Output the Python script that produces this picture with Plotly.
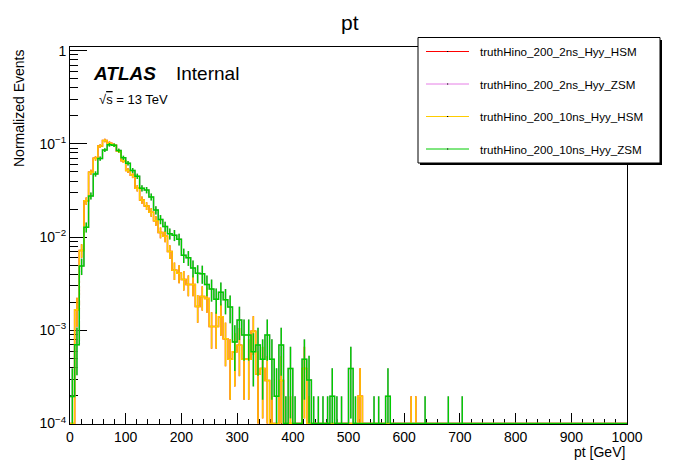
import numpy as np
import plotly.graph_objects as go

# histogram binning: 120 bins from 0 to 1000 GeV
n_bins = 120
pt_min, pt_max = 0.0, 1000.0
unit_weight = 1.96e-4  # normalised weight of one event

# normalised entries per bin (bins after the listed ones are empty)
hsm = [0.0, 1.66e-3, 7.2e-3, 2.45e-2, 4.97e-2, 7.0e-2, 9.5e-2, 1.09e-1, 1.02e-1, 9.7e-2,
       8.4e-2, 6.6e-2, 5.2e-2, 4.6e-2, 3.35e-2, 2.5e-2, 2.16e-2, 1.85e-2, 1.5e-2, 1.12e-2,
       1.02e-2, 7.0e-3, 4.4e-3, 4.1e-3, 3.5e-3, 3.1e-3, 3.1e-3, 1.8e-3, 2.3e-3, 2.2e-3,
       1.1e-3, 1.1e-3, 1.4e-3, 8.1e-4, 4.9e-4, 5.9e-4, 6.9e-4, 4.9e-4, 4.9e-4, 9.8e-4,
       3.4e-4, 3.9e-4, 2.9e-4, 0.0, 0.0, 2.9e-4, 0.0, 0.0, 0.0, 0.0,
       3.9e-4, 0.0, 0.0, 0.0, 0.0, 0.0, 0.0, 0.0, 0.0, 0.0,
       0.0, 0.0, 1.96e-4]
zsm = [1.95e-4, 7.0e-4, 4.9e-3, 1.28e-2, 2.77e-2, 4.77e-2, 6.96e-2, 8.6e-2, 9.8e-2, 9.7e-2,
       8.5e-2, 7.1e-2, 6.2e-2, 5.2e-2, 4.5e-2, 3.35e-2, 3.2e-2, 2.7e-2, 1.95e-2, 1.55e-2,
       1.3e-2, 1.09e-2, 1.05e-2, 9.5e-3, 6.4e-3, 6.0e-3, 4.65e-3, 4.1e-3, 4.05e-3, 3.1e-3,
       2.77e-3, 2.16e-3, 2.56e-3, 2.13e-3, 1.78e-3, 7.5e-4, 1.29e-3, 8.9e-4, 8.9e-4, 5.9e-4,
       6.95e-4, 4.9e-4, 8.9e-4, 4.9e-4, 1.96e-4, 6.95e-4, 0.0, 3.9e-4, 0.0, 0.0,
       4.9e-4, 2.93e-4, 0.0, 0.0, 0.0, 0.0, 1.96e-4, 0.0, 0.0, 0.0,
       3.9e-4, 0.0, 0.0, 0.0, 0.0, 0.0, 0.0, 0.0, 1.96e-4]
# empty bins that still carry an error bar (weights cancelling)
hsm_spike_bins = [43, 47, 51, 73, 74]
zsm_spike_bins = [46, 48, 52, 53, 54, 55, 57, 58, 61, 65, 66, 76, 81, 84]

series_names = ["truthHino_200_2ns_Hyy_HSM", "truthHino_200_2ns_Hyy_ZSM",
                "truthHino_200_10ns_Hyy_HSM", "truthHino_200_10ns_Hyy_ZSM"]
series_values = [hsm, zsm, hsm, zsm]
series_spikes = [hsm_spike_bins, zsm_spike_bins, hsm_spike_bins, zsm_spike_bins]
series_colors = ["#ff0000", "#e67ee6", "#ffcc00", "#00cc00"]

x_ticks = list(range(0, 1001, 100))
y_ticks = [1e-4, 1e-3, 1e-2, 1e-1, 1]
y_ticktext = ["10<sup>\u22124</sup>", "10<sup>\u22123</sup>", "10<sup>\u22122</sup>",
              "10<sup>\u22121</sup>", "1"]

# page geometry: the page body adds an 8px margin, so the figure is shrunk by it
PAGE_OFF = 8
W, H = 696 - PAGE_OFF, 472 - PAGE_OFF
# plot frame in screen pixels
FX0, FX1, FY0, FY1 = 70, 627, 47, 424
L, R, T, B = FX0 - PAGE_OFF, 696 - FX1, FY0 - PAGE_OFF, 472 - FY1
FONT = "Liberation Sans, Arial, sans-serif"


def fx(px):
    return (px - FX0) / (FX1 - FX0)


def fy(py):
    return (FY1 - py) / (FY1 - FY0)


y_floor = 1e-4
edges = np.linspace(pt_min, pt_max, n_bins + 1)
centers = 0.5 * (edges[:-1] + edges[1:])

fig = go.Figure()

for name, vals_in, spikes, color in zip(series_names, series_values, series_spikes, series_colors):
    vals = np.zeros(n_bins)
    vals[:len(vals_in)] = vals_in
    shown = np.maximum(vals, y_floor)

    # step outline
    fig.add_trace(go.Scatter(
        x=edges, y=np.append(shown, shown[-1]),
        mode="lines", line=dict(color=color, width=1.5, shape="hv"),
        name=name, showlegend=False, hoverinfo="skip"))

    # error bars
    err = np.sqrt(vals * unit_weight)
    ex, ey, eup, edn = [], [], [], []
    for i in range(n_bins):
        if vals[i] > 0:
            lo = max(vals[i] - err[i], y_floor)
            ex.append(centers[i])
            ey.append(vals[i])
            eup.append(err[i])
            edn.append(vals[i] - lo)
        elif i in spikes:
            ex.append(centers[i])
            ey.append(y_floor)
            eup.append(unit_weight - y_floor)
            edn.append(0.0)
    fig.add_trace(go.Scatter(
        x=ex, y=ey, mode="markers", marker=dict(size=0.1, color=color),
        error_y=dict(type="data", symmetric=False, array=eup, arrayminus=edn,
                     color=color, thickness=1.5, width=0),
        showlegend=False, hoverinfo="skip"))

# legend box drawn by hand (ROOT style with shadow)
shapes = [
    dict(type="rect", xref="paper", yref="paper", x0=fx(420), x1=fx(662), y0=fy(165), y1=fy(40),
         fillcolor="black", line=dict(width=0), layer="above"),
    dict(type="rect", xref="paper", yref="paper", x0=fx(418), x1=fx(660), y0=fy(163), y1=fy(37.5),
         fillcolor="white", line=dict(color="black", width=1), layer="above"),
]
annotations = []
rows = [51.5, 84, 116.5, 149]
for row, name, color in zip(rows, series_names, series_colors):
    shapes.append(dict(type="line", xref="paper", yref="paper", x0=fx(426), x1=fx(469),
                       y0=fy(row), y1=fy(row), line=dict(color=color, width=1), layer="above"))
    shapes.append(dict(type="rect", xref="paper", yref="paper", x0=fx(447), x1=fx(448.2),
                       y0=fy(row + 0.6), y1=fy(row - 0.6), fillcolor="black",
                       line=dict(width=0), layer="above"))
    annotations.append(dict(text=name, xref="paper", yref="paper", x=fx(478), y=fy(row),
                            xanchor="left", yanchor="middle", showarrow=False,
                            font=dict(family=FONT, size=11.6, color="black")))

annotations += [
    dict(text="pt", xref="paper", yref="paper", x=fx(350), y=fy(22), xanchor="center",
         yanchor="middle", showarrow=False, font=dict(family=FONT, size=21, color="black")),
    dict(text="<b><i>ATLAS</i></b>", xref="paper", yref="paper", x=fx(91), y=fy(73),
         xanchor="left", yanchor="middle", showarrow=False,
         font=dict(family=FONT, size=19, color="black")),
    dict(text="Internal", xref="paper", yref="paper", x=fx(174), y=fy(73),
         xanchor="left", yanchor="middle", showarrow=False,
         font=dict(family=FONT, size=19, color="black")),
    dict(text="\u221a<span style='text-decoration:overline'>s</span> = 13 TeV", xref="paper",
         yref="paper", x=fx(97), y=fy(99), xanchor="left", yanchor="middle", showarrow=False,
         font=dict(family=FONT, size=13, color="black")),
    dict(text="Normalized Events", xref="paper", yref="paper", x=fx(19), y=fy(108),
         xanchor="center", yanchor="middle", textangle=-90, showarrow=False,
         font=dict(family=FONT, size=14, color="black")),
    dict(text="pt [GeV]", xref="paper", yref="paper", x=fx(627), y=fy(452),
         xanchor="right", yanchor="middle", showarrow=False,
         font=dict(family=FONT, size=14, color="black")),
]

fig.update_layout(
    width=W, height=H,
    margin=dict(l=L, r=R, t=T, b=B, pad=0),
    paper_bgcolor="white", plot_bgcolor="white",
    font=dict(family=FONT, size=14, color="black"),
    showlegend=False,
    shapes=shapes, annotations=annotations,
    xaxis=dict(range=[pt_min, pt_max], tickvals=x_ticks, ticks="inside", ticklen=11,
               tickcolor="black", tickwidth=1, showgrid=False, zeroline=False,
               showline=True, linecolor="black", linewidth=1, mirror=True,
               layer="below traces", tickfont=dict(family=FONT, size=14),
               minor=dict(dtick=20, ticks="inside", ticklen=5.5, tickcolor="black",
                          showgrid=False)),
    yaxis=dict(type="log", range=[-4.005, 0.04], tickvals=y_ticks, ticktext=y_ticktext,
               ticks="inside", ticklen=17, tickcolor="black", tickwidth=1,
               showgrid=False, zeroline=False, showline=True, linecolor="black",
               linewidth=1, mirror=True, layer="below traces",
               tickfont=dict(family=FONT, size=14),
               minor=dict(dtick="D1", ticks="inside", ticklen=8, tickcolor="black",
                          showgrid=False)),
)

fig.write_html("out.html")
